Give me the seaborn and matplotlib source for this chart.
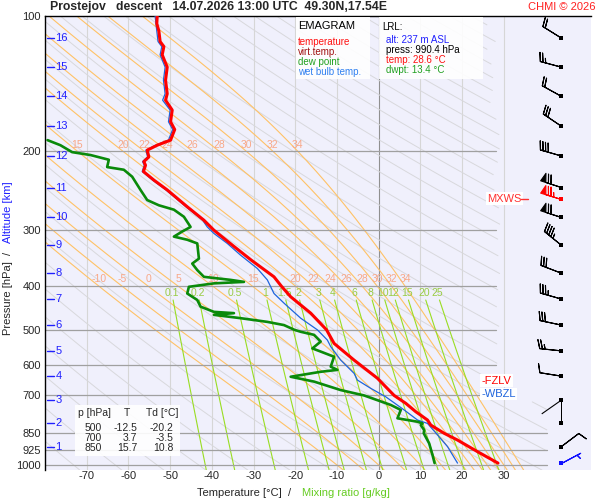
import numpy as np
import matplotlib
matplotlib.use("Agg")
import matplotlib.pyplot as plt
from matplotlib.patches import Rectangle
from matplotlib.ticker import NullLocator
import seaborn as sns

sns.set_style("white")
plt.rcParams["font.family"] = ["Liberation Sans", "DejaVu Sans"]

# -----------------------------
# sounding data
# -----------------------------
t_pres = [100, 104, 108, 114, 117, 122, 130, 139, 149, 154, 162, 172, 179, 189,
          194, 199, 206, 211, 215, 222, 232, 244, 266, 285, 300, 326, 350, 381,
          400, 422, 459, 500, 536, 584, 641, 700, 729, 761, 794, 815, 850, 880,
          934, 990.4]
t_temp = [-53.1, -53.2, -52.7, -52.4, -51.5, -51.9, -50.7, -51.1, -50.7, -51.1,
          -49.5, -49.9, -48.9, -49.9, -53.1, -55.5, -55.1, -56.3, -55.9, -56.4,
          -53.9, -50.7, -45.9, -41.9, -39.5, -34.7, -30.5, -25.1, -23.3, -21.1,
          -16.3, -12.5, -10.7, -5.9, -0.3, 3.7, 6.5, 8.9, 11.7, 12.5, 15.7, 18.9,
          23.7, 28.6]

td_pres = [189, 194, 201, 204, 209, 217, 220, 228, 244, 257, 264, 270, 280, 295,
           302, 310, 315, 321, 347, 356, 368, 381, 387, 391, 394, 401, 415, 429,
           444, 456, 459, 463, 471, 480, 488, 500, 505, 513, 531, 550, 559, 574,
           604, 614, 620, 636, 652, 681, 700, 735, 754, 787, 801, 808, 815, 836,
           850, 895, 950, 990.4]
td_temp = [-79.4, -76.3, -73.5, -69.1, -64.7, -65.1, -61.1, -59.1, -57.1, -55.5,
           -52.7, -49.1, -46.7, -45.1, -47.1, -49.1, -45.9, -43.5, -43.1, -44.7,
           -43.5, -41.9, -35.5, -32.3, -39.5, -45.5, -45.9, -43.5, -42.7, -39.5,
           -34.7, -39.5, -33.1, -26.7, -22.7, -20.2, -18.7, -15.5, -13.9, -15.9,
           -13.9, -10.7, -11.5, -9.9, -13.9, -21.1, -15.5, -9.1, -3.5, 2.9, 5.3,
           4.5, 9.3, 10.5, 10.1, 10.9, 10.8, 12.1, 12.9, 13.4]

tw_pres = [100, 108, 114, 117, 122, 130, 139, 149, 154, 162, 172, 179, 189, 194,
           199, 206, 211, 215, 222, 232, 244, 266, 285, 295, 305, 321, 341, 365,
           387, 415, 436, 471, 500, 527, 545, 584, 625, 647, 675, 705, 754, 794,
           808, 857, 910, 990.4]
tw_temp = [-53.6, -53.2, -52.9, -52.0, -52.4, -51.2, -51.6, -51.2, -51.8, -50.0,
           -50.4, -49.4, -50.4, -53.5, -55.8, -55.4, -56.6, -56.2, -56.7, -54.2,
           -51.0, -46.2, -42.2, -41.1, -39.5, -36.3, -33.1, -29.1, -26.7, -25.1,
           -22.7, -18.7, -14.7, -12.3, -11.5, -9.1, -5.9, -5.1, -1.9, 1.7, 6.1,
           9.3, 11.7, 14.1, 16.5, 18.9]

# altitude marks
alt_km = list(range(1, 17))
alt_pres = [910, 808, 717, 634, 557, 488, 427, 374, 324, 281, 241, 205, 176,
            151, 130, 112]

# winds at the km levels (direction in degrees, speed)
wind_dir = [53, 360, 235, 279, 276, 282, 286, 291, 309, 288, 288, 286, 304,
            299, 285, 302]
wind_spd = [10, 0, 0, 10, 25, 30, 35, 30, 45, 70, 70, 40, 30, 20, 25, 20]
sfc_dir, sfc_spd = 62, 5
mxws_pres, mxws_dir, mxws_spd = 255, 287, 75

# table values
tab_p = ["500", "700", "850"]
tab_t = ["-12.5", "3.7", "15.7"]
tab_td = ["-20.2", "-3.5", "10.8"]

p_levels = [100, 200, 300, 400, 500, 600, 700, 850, 925, 1000]
theta_w = [-10, -5, 0, 5, 10, 15, 20, 22, 24, 26, 28, 30, 32, 34]
mix_ratio = [0.1, 0.2, 0.5, 1, 1.5, 2, 3, 4, 6, 8, 10, 12, 15, 20, 25]
mix_lab = ["0.1", "0.2", "0.5", "1", "1.5", "2", "3", "4", "6", "8", "10",
           "12", "15", "20", "25"]

# -----------------------------
# figure
# -----------------------------
W, H = 600, 500
fig = plt.figure(figsize=(6, 5), dpi=100)
fig.patch.set_facecolor("white")
fx = lambda px: px / W
fy = lambda py: 1 - py / H

ax = fig.add_axes([fx(45), fy(470), 546 / W, 454 / H])
ax.set_facecolor("#f0f0fc")
XMIN, XMAX = -80, 50.9
PBOT, PTOP = 1026, 100
ax.set_yscale("log")
ax.set_xlim(XMIN, XMAX)
ax.set_ylim(PBOT, PTOP)

# isotherms
for t in range(-70, 40, 10):
    ax.axvline(t, color="#909090" if t == 0 else "#d6d6d6", lw=0.8, zorder=1)

# dry adiabats
pp = np.linspace(PBOT, PTOP, 200)
for th in range(190, 600, 10):
    tt = th * (pp / 1000.0) ** 0.2857 - 273.15
    tt = np.where((tt > 29) & (pp < 720), np.nan, tt)
    tt = np.where(tt > 40.5, np.nan, tt)
    ax.plot(tt, pp, color="#d8d8dc", lw=0.7, zorder=1)

# moist adiabats
Rd, cp, Lv, eps = 287.04, 1005.7, 2.501e6, 0.622


def lapse(T, p):
    es = 6.112 * np.exp(17.67 * (T - 273.15) / (T - 29.65))
    rs = eps * es / (p - es)
    return (Rd * T + Lv * rs) / (p * (cp + Lv ** 2 * rs * eps / (Rd * T ** 2)))


def integrate(T0, plist):
    out = [T0]
    T = T0
    for p0, p1 in zip(plist[:-1], plist[1:]):
        h = p1 - p0
        k1 = lapse(T, p0)
        k2 = lapse(T + h * k1 / 2, p0 + h / 2)
        k3 = lapse(T + h * k2 / 2, p0 + h / 2)
        k4 = lapse(T + h * k3, p1)
        T = T + h * (k1 + 2 * k2 + 2 * k3 + k4) / 6
        out.append(T)
    return np.array(out)


T0 = np.array(theta_w) + 273.15
p_up = np.arange(1000, 99, -2.0)
p_dn = np.arange(1000, 1027, 2.0)
m_up = integrate(T0, p_up)
m_dn = integrate(T0, p_dn)
p_m = np.concatenate([p_dn[::-1], p_up[1:]])
for i, tw in enumerate(theta_w):
    tt = np.concatenate([m_dn[::-1, i], m_up[1:, i]]) - 273.15
    tt = np.where(tt > 40.5, np.nan, tt)
    ax.plot(tt, p_m, color="#ffc266", lw=0.8, zorder=2)
    for plab, ytxt in [(200, 194), (400, 385)]:
        tl = np.interp(-plab, -p_up, m_up[:, i]) - 273.15
        if XMIN + 2 < tl < 36:
            ax.text(tl, ytxt, str(tw), color="#f8a888", fontsize=7.5,
                    ha="center", va="center", zorder=3)

# mixing ratio lines
pm = np.linspace(429, PBOT, 100)
for w, lab in zip(mix_ratio, mix_lab):
    e = w * pm / (622.0 + w)
    le = np.log(e / 6.112)
    tt = 243.5 * le / (17.67 - le)
    ax.plot(tt, pm, color="#99dd22", lw=0.8, zorder=2)
    e0 = w * 416 / (622.0 + w)
    l0 = np.log(e0 / 6.112)
    ax.text(243.5 * l0 / (17.67 - l0), 414, lab, color="#99cc44",
            fontsize=7.5, ha="center", va="center", zorder=3)

# pressure lines
for p in p_levels[1:]:
    xmax = 40.3 if p >= 850 else 28.1
    ax.plot([XMIN, xmax], [p, p], color="#a0a0a0", lw=0.9, zorder=2)

# profiles
sns.lineplot(x=tw_temp, y=tw_pres, sort=False, estimator=None, color="#1e64dc",
             lw=0.9, ax=ax, zorder=4)
sns.lineplot(x=td_temp, y=td_pres, sort=False, estimator=None, color="#0a8a0a",
             lw=1.9, ax=ax, zorder=5)
sns.lineplot(x=t_temp, y=t_pres, sort=False, estimator=None, color="#ff0000",
             lw=2.2, ax=ax, zorder=6)

# altitude marks
ytr = ax.get_yaxis_transform()
for km, p in zip(alt_km, alt_pres):
    ax.plot([0.004, 0.016], [p, p], color="#2020ff", lw=1.0, transform=ytr,
            zorder=7)
    ax.text(0.019, p, str(km), color="#2020ff", fontsize=8, ha="left",
            va="center", transform=ytr, zorder=7)

# wind barbs
XB = 43.8
BL = 5.6
rad = np.deg2rad(wind_dir)
spd = np.array(wind_spd, dtype=float)
u = -spd * np.sin(rad)
v = -spd * np.cos(rad)
has = spd > 0
bx = np.full(len(alt_pres), XB)
ap = np.array(alt_pres, dtype=float)
ax.barbs(bx[has], ap[has], u[has], v[has], length=BL, lw=0.8, color="black",
         zorder=8)
# staff-only (weak wind)
ax.quiver(bx[~has], ap[~has], 24 * np.sin(rad[~has]), 24 * np.cos(rad[~has]),
          angles="uv", units="dots", scale_units="dots", scale=1, width=1.1,
          headwidth=0, headlength=0, headaxislength=0, color="black", zorder=8)
r = np.deg2rad(sfc_dir)
ax.barbs([XB], [990.4], [-sfc_spd * np.sin(r)], [-sfc_spd * np.cos(r)],
         length=BL, lw=0.8, color="#1010ff", zorder=8)
r = np.deg2rad(mxws_dir)
ax.barbs([XB], [mxws_pres], [-mxws_spd * np.sin(r)], [-mxws_spd * np.cos(r)],
         length=BL, lw=0.8, color="#ff0000", zorder=8)
ax.scatter(bx, ap, marker="s", s=6, color="black", zorder=9, linewidths=0)
ax.scatter([XB], [990.4], marker="s", s=6, color="#1010ff", zorder=9,
           linewidths=0)
ax.scatter([XB], [mxws_pres], marker="s", s=6, color="#ff0000", zorder=9,
           linewidths=0)

# level labels
box = dict(facecolor="white", edgecolor="none", pad=1.0)
ax.text(26.1, mxws_pres, "MXWS", color="#ff3030", fontsize=8, ha="left",
        va="center", bbox=box, zorder=9)
ax.plot([34.0, 35.7], [mxws_pres, mxws_pres], color="#ff3030", lw=1, zorder=9)
ax.text(24.6, 649, "-FZLV", color="#ff0000", fontsize=8, ha="left",
        va="center", bbox=box, zorder=9)
ax.text(24.6, 695, "-WBZL", color="#1e64dc", fontsize=8, ha="left",
        va="center", bbox=box, zorder=9)

# axes styling
ax.set_xticks(range(-70, 31, 10))
ax.set_xticklabels([str(t) for t in range(-70, 31, 10)], fontsize=8)
ax.set_yticks(p_levels)
ax.set_yticklabels([str(p) for p in p_levels], fontsize=8)
ax.yaxis.set_minor_locator(NullLocator())
ax.tick_params(axis="x", length=0, pad=1)
ax.tick_params(axis="y", length=0, pad=3)
for s in ["right", "bottom"]:
    ax.spines[s].set_visible(False)
for s in ["top", "left"]:
    ax.spines[s].set_color("black")
    ax.spines[s].set_linewidth(1.0)
ax.set_xlabel("")
ax.set_ylabel("")

# axis titles
fig.text(fx(8), fy(298), "Pressure [hPa]", rotation=90, fontsize=8,
         ha="center", va="center")
fig.text(fx(8), fy(253), "/", rotation=90, fontsize=8, ha="center",
         va="center")
fig.text(fx(8), fy(212), "Altitude [km]", rotation=90, fontsize=8,
         color="#2020ff", ha="center", va="center")
fig.text(fx(197), fy(493), "Temperature [°C]  /", fontsize=8, ha="left",
         va="center")
fig.text(fx(302), fy(493), "Mixing ratio [g/kg]", fontsize=8,
         color="#66cc22", ha="left", va="center")

# title
fig.text(fx(50), fy(7), "Prostejov   descent   14.07.2026 13:00 UTC  49.30N,17.54E",
         fontsize=8.8, fontweight="bold", ha="left", va="center")
fig.text(fx(596), fy(7), "CHMI © 2026", fontsize=8, color="#ff2020",
         ha="right", va="center")

# legend boxes
for x0, y0, x1, y1 in [(296, 17, 370, 79), (379, 17, 483, 79), (75, 405, 180, 456)]:
    fig.add_artist(Rectangle((fx(x0), fy(y1)), (x1 - x0) / W, (y1 - y0) / H,
                             transform=fig.transFigure, facecolor="white",
                             edgecolor="none", alpha=0.9, zorder=5))

leg = [("EMAGRAM", "black", 26, 8), ("temperature", "#ff1010", 42.3, 7),
       ("virt.temp.", "#a01010", 52.3, 7), ("dew point", "#20a020", 62, 7),
       ("wet bulb temp.", "#3080f0", 72, 7)]
for txt, col, yy, fs in leg:
    fig.text(fx(298), fy(yy), txt, color=col, fontsize=fs, ha="left",
             va="center", zorder=6)
lrl = [("LRL:", "black", 382, 27.3), ("alt: 237 m ASL", "#2020ff", 386, 40),
       ("press: 990.4 hPa", "black", 386, 50), ("temp: 28.6 °C", "#ff1010", 386, 60.3),
       ("dwpt: 13.4 °C", "#20a020", 386, 70)]
for txt, col, xx, yy in lrl:
    fig.text(fx(xx), fy(yy), txt, color=col, fontsize=7, ha="left",
             va="center", zorder=6)

# table
fig.text(fx(78), fy(413.3), "p [hPa]", fontsize=7.5, ha="left", va="center", zorder=6)
fig.text(fx(127), fy(413.3), "T", fontsize=7.5, ha="center", va="center", zorder=6)
fig.text(fx(146), fy(413.3), "Td [°C]", fontsize=7.5, ha="left", va="center", zorder=6)
for i, (a, b, c) in enumerate(zip(tab_p, tab_t, tab_td)):
    yy = fy(428.3 + 10 * i)
    fig.text(fx(102), yy, a, fontsize=7.5, ha="right", va="center", zorder=6)
    fig.text(fx(137), yy, b, fontsize=7.5, ha="right", va="center", zorder=6)
    fig.text(fx(173.5), yy, c, fontsize=7.5, ha="right", va="center", zorder=6)

fig.savefig("out.png", dpi=100)
